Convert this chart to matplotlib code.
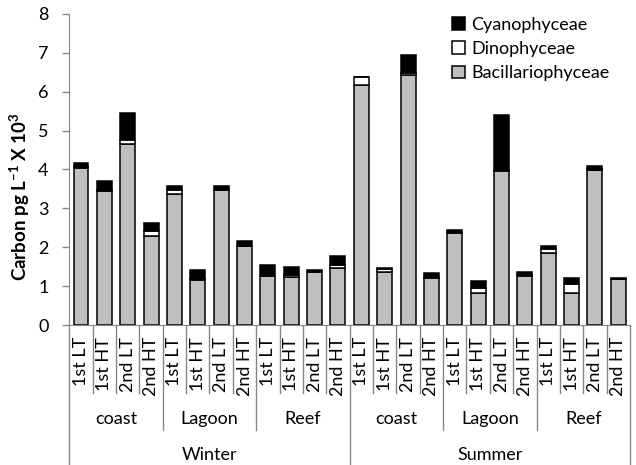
import numpy as np
import matplotlib.pyplot as plt
from matplotlib.transforms import blended_transform_factory

plt.rcParams['font.family'] = ['Lato', 'DejaVu Sans']
plt.rcParams['mathtext.fontset'] = 'custom'
plt.rcParams['mathtext.rm'] = 'Lato'
plt.rcParams['mathtext.bf'] = 'Lato:bold'

# categories -------------------------------------------------------------------
seasons = ['Winter', 'Summer']
sites = ['coast', 'Lagoon', 'Reef']
tides = ['1st LT', '1st HT', '2nd LT', '2nd HT']

# carbon per class, Winter (coast, Lagoon, Reef) then Summer (coast, Lagoon, Reef)
bacillario = [4.05, 3.44, 4.65, 2.30, 3.37, 1.16, 3.47, 2.03, 1.26, 1.24, 1.37, 1.46,
              6.17, 1.37, 6.43, 1.22, 2.37, 0.83, 3.97, 1.27, 1.84, 0.83, 3.99, 1.19]
dino = [0.01, 0.02, 0.11, 0.13, 0.10, 0.02, 0.04, 0.01, 0.00, 0.05, 0.00, 0.08,
        0.22, 0.07, 0.04, 0.01, 0.02, 0.11, 0.03, 0.01, 0.11, 0.22, 0.01, 0.00]
cyano = [0.10, 0.25, 0.69, 0.20, 0.11, 0.24, 0.06, 0.13, 0.28, 0.19, 0.04, 0.24,
         0.00, 0.03, 0.47, 0.10, 0.05, 0.19, 1.39, 0.09, 0.08, 0.17, 0.10, 0.03]

bac = np.array(bacillario)
din = np.array(dino)
cya = np.array(cyano)
n = len(bac)
x = np.arange(n)
fs = 13

fig = plt.figure(figsize=(6.36, 4.65), dpi=100)
W, H = 636, 465
ax = fig.add_axes([69.3 / W, 1 - 325 / H, (630 - 69.3) / W, 311 / H])

w = 0.64
b1 = ax.bar(x, bac, w, color='#BFBFBF', edgecolor='black', linewidth=1.1, label='Bacillariophyceae')
b2 = ax.bar(x, din, w, bottom=bac, color='white', edgecolor='black', linewidth=1.1, label='Dinophyceae')
b3 = ax.bar(x, cya, w, bottom=bac + din, color='black', edgecolor='black', linewidth=1.1, label='Cyanophyceae')

ax.set_xlim(-0.5, n - 0.5)
ax.set_ylim(0, 8)
ax.set_yticks(range(9))
ax.tick_params(axis='y', direction='out', length=5, width=1, color='#868686', pad=10, labelsize=fs)
ax.tick_params(axis='x', length=0, labelbottom=False)
for s in ['top', 'right']:
    ax.spines[s].set_visible(False)
ax.spines['left'].set_color('#868686')
ax.spines['bottom'].set_color('#868686')

# legend, top right
ax.legend([b3, b2, b1], ['Cyanophyceae', 'Dinophyceae', 'Bacillariophyceae'],
          loc='upper left', bbox_to_anchor=(452 / W, 1 - 17 / H), bbox_transform=fig.transFigure,
          frameon=False, fontsize=fs, borderpad=0, borderaxespad=0,
          handlelength=0.7, handleheight=0.7, handletextpad=0.35, labelspacing=0.45)

# grouped category axis below the bars
trans = blended_transform_factory(ax.transData, ax.transAxes)
h_px = 311
y_tide = -(393 - 325) / h_px
y_site = -(430 - 325) / h_px
y_season = -(465 - 325) / h_px
for k in range(n + 1):
    if k % 12 == 0:
        yb = y_season
    elif k % 4 == 0:
        yb = y_site
    else:
        yb = y_tide
    ax.plot([k - 0.5, k - 0.5], [0, yb], transform=trans, clip_on=False,
            color='#868686', linewidth=1)

for i in range(n):
    ax.text(i, -(337 - 325) / h_px, tides[i % 4], transform=trans, rotation=90,
            ha='center', va='top', fontsize=fs)

for j in range(len(seasons) * len(sites)):
    ax.text(4 * j + 1.5, -(419 - 325) / h_px, sites[j % 3], transform=trans,
            ha='center', va='center', fontsize=fs)

for j, s in enumerate(seasons):
    ax.text(12 * j + 5.5, -(455 - 325) / h_px, s, transform=trans,
            ha='center', va='center', fontsize=fs)

fig.text(20 / W, 1 - 197 / H, r'Carbon pg L$^{\mathbf{-1}}$ X 10$^{\mathbf{3}}$', rotation=90,
         ha='center', va='center', fontsize=fs + 0.5, fontweight='bold')

fig.savefig('out.png', dpi=100)
